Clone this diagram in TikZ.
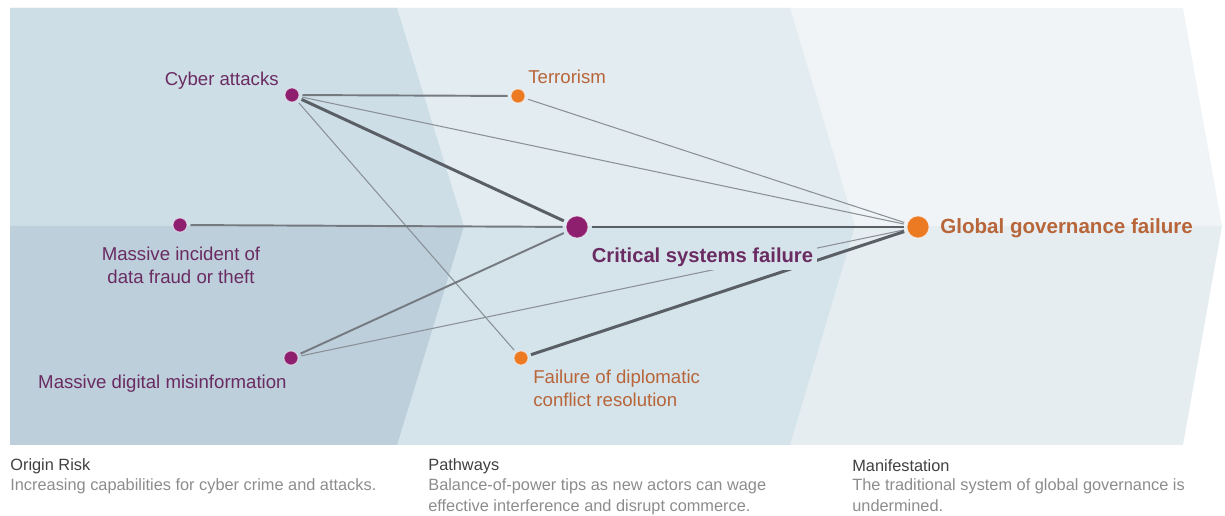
\documentclass[tikz,border=0pt]{standalone}
\usepackage{fontspec}
\setmainfont{Liberation Sans}
\definecolor{dotpurple}{HTML}{8E1F6F}
\definecolor{dotorange}{HTML}{EC7A23}
\definecolor{txtpurple}{HTML}{6A2B62}
\definecolor{txtorange}{HTML}{B8653A}
\definecolor{linegray}{HTML}{8A9097}
\definecolor{linedark}{HTML}{5A5F66}
\definecolor{paneaT}{HTML}{CEDEE7}
\definecolor{paneaB}{HTML}{BCCFDB}
\definecolor{panebT}{HTML}{E3ECF1}
\definecolor{panebB}{HTML}{D5E3EA}
\definecolor{panecT}{HTML}{F0F4F6}
\definecolor{panecB}{HTML}{E6EDF0}
\definecolor{capgray}{HTML}{8C8C8C}
\tikzset{
  dotp/.style={circle, fill=dotpurple, draw=white, draw opacity=.5, line width=.6pt, inner sep=0pt, minimum size=.28cm, outer sep=.07cm},
  doto/.style={dotp, fill=dotorange},
  bigdot/.style={minimum size=.44cm},
  lblp/.style={text=txtpurple, font=\fontsize{10.6}{13}\selectfont, inner sep=0pt},
  lblo/.style={lblp, text=txtorange},
  thin/.style={draw=linegray, line width=.6pt},
  mid/.style={draw=linegray!85!black, line width=1.1pt},
  thick/.style={draw=linedark, line width=1.7pt},
  captitle/.style={anchor=west, inner sep=0pt, text=black!75, font=\fontsize{9.3}{12}\selectfont},
  capbody/.style={anchor=north west, inner sep=0pt, align=left, text=capgray, font=\fontsize{9.3}{11.9}\selectfont}
}
\begin{document}
\begin{tikzpicture}[x=0.02cm, y=-0.02cm]
\useasboundingbox (0,0) rectangle (1225,516);
% panels, back to front
\fill[panecT] (10,8) -- (1183,8) -- (1222,226) -- (10,226) -- cycle;
\fill[panecB] (10,226) -- (1222,226) -- (1183,445) -- (10,445) -- cycle;
\fill[panebT] (10,8) -- (790,8) -- (855,226) -- (10,226) -- cycle;
\fill[panebB] (10,226) -- (855,226) -- (790,445) -- (10,445) -- cycle;
\fill[paneaT] (10,8) -- (397,8) -- (464,226) -- (10,226) -- cycle;
\fill[paneaB] (10,226) -- (464,226) -- (397,445) -- (10,445) -- cycle;

\node (cyber)[dotp] at (292,95) {};
\node (incident)[dotp] at (180,225) {};
\node (misinfo)[dotp] at (291,358) {};
\node (terror)[doto] at (518,96) {};
\node (diplo)[doto] at (521,358) {};
\node (critical)[dotp, bigdot] at (577,227) {};
\node (global)[doto, bigdot] at (918,227) {};

\node (cyberl)[lblp, anchor=east] at (279,81) {Cyber attacks};
\node (incidentl)[lblp, align=center] at (181,265) {Massive incident of\\data fraud or theft};
\node (misinfol)[lblp, anchor=east] at (287,384) {Massive digital misinformation};
\node (terrorl)[lblo, anchor=west] at (528,77) {Terrorism};
\node (diplol)[lblo, anchor=north west, align=left] at (533,370) {Failure of diplomatic\\conflict resolution};
\node (globall)[lblo, anchor=west, font=\fontsize{11.7}{14}\selectfont\bfseries] at (940,228) {Global governance failure};

\draw[mid] (cyber) -- (terror);
\draw[thick] (cyber) -- (critical);
\draw[thin] (cyber) -- (global);
\draw[thin] (cyber) -- (diplo);
\draw[thin] (terror) -- (global);
\draw[mid] (incident) -- (critical);
\draw[thick] (critical) -- (global);
\draw[mid] (misinfo) -- (critical);
\draw[thin] (misinfo) -- (global);
\draw[thick] (diplo) -- (global);

% label sits over the lines
\node (criticall)[lblp, anchor=west, fill=panebB, inner sep=2pt, font=\fontsize{11.5}{14}\selectfont\bfseries] at (588,257) {Critical systems failure};

\node (origint)[captitle] at (10,466) {Origin Risk};
\node (originb)[capbody] at (10,478) {Increasing capabilities for cyber crime and attacks.};
\node (patht)[captitle] at (428,466) {Pathways};
\node (pathb)[capbody] at (428,478) {Balance-of-power tips as new actors can wage\\effective interference and disrupt commerce.};
\node (manit)[captitle] at (852,466) {Manifestation};
\node (manib)[capbody] at (852,478) {The traditional system of global governance is\\undermined.};
\end{tikzpicture}
\end{document}
